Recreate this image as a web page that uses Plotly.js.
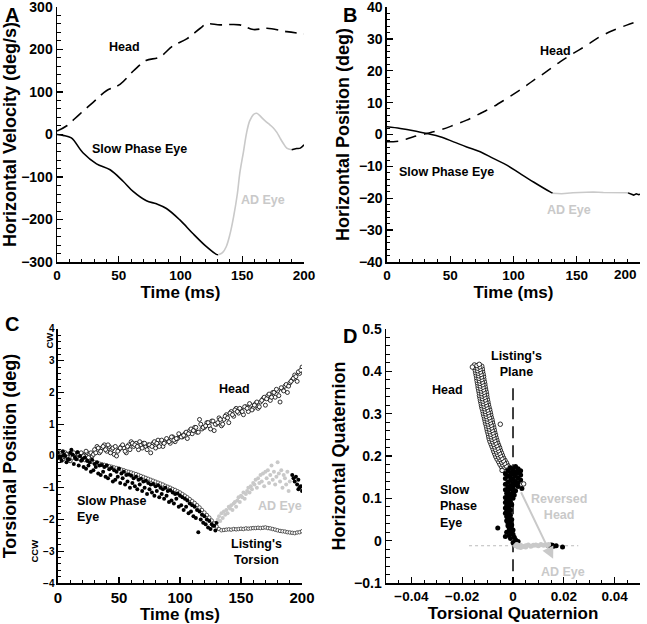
<!DOCTYPE html>
<html><head><meta charset="utf-8">
<script src="https://cdn.plot.ly/plotly-3.0.1.min.js"></script>
<style>html,body{margin:0;padding:0;background:#fff}#chart{width:647px;height:624px}</style>
</head><body><div id="chart"></div>
<script>
// ---------- Panel A: horizontal velocity ----------
const eyeVelT = [0,5,11.6,21,32,43,53.5,61.6,72.4,80.5,88.6,99.5,110,121,129,130.5];
const eyeVelV = [0,-2,-8,-43,-69,-83,-110,-134,-156,-163,-174,-201,-233,-264,-282,-283];
const adVelT = [130.5,134,137,140,143,146,148,151,153.5,156,159,161.6,164,167,171,175,178,180.5,183,186,190];
const adVelV = [-283,-278,-264,-235,-193,-140,-91,-40,4,32,47,50,45,36,26,16,5,-8,-20,-32,-36];
const eyeVel2T = [190,194,197,200];
const eyeVel2V = [-36,-33,-32,-24];
const headVelT = [0,7.6,18,29,40,51,62,72,83,94,105,116,121,132,148,159,170,186,200];
const headVelV = [8,20,47,75,103,118,150,174,182,209,225,250,260,258,258,247,250,242,237];

// ---------- Panel B: horizontal position ----------
const eyePosT = [0,10.5,21,31.6,42,52.6,63,73.7,84,94.7,105,115.8,129,131];
const eyePosV = [2.4,1.9,1.2,0.3,-0.7,-2.3,-3.9,-5.4,-7.5,-9.6,-12.2,-14.9,-18,-18.4];
const adPosT = [131,138,147,155,163,171,179,185,190.5];
const adPosV = [-18.4,-18.6,-18.3,-18.1,-18,-18.2,-18.3,-18.2,-18.3];
const eyePos2T = [190.5,193,195,197,199,200];
const eyePos2V = [-18.3,-18.8,-19.0,-18.6,-18.9,-18.7];
const headPosT = [0,10.5,21,31.6,42,52.6,63,73.7,84,94.7,105,115.8,126,136.8,147,158,168,179,189.5,200];
const headPosV = [-2.3,-2,-0.7,0.3,1.4,2.9,4.5,6.6,8.7,11.3,13.9,17,19.7,22.8,25.4,28,30.6,32.7,34.3,35.7];
const timeTicks = [0,50,100,150,200];
const timeTickTextB = ['0','50','100','150',''];

// ---------- Panel C: torsional position ----------
const headTorT = [0,2,4,6,8,10,12,14,16,18,20,22,24,26,28,30,32,34,36,38,40,42,44,46,48,50,52,54,56,58,60,62,64,66,68,70,72,74,76,78,80,82,84,86,88,90,92,94,96,98,100,102,104,106,108,110,112,114,116,118,120,122,124,126,128,130,132,134,136,138,140,142,144,146,148,150,152,154,156,158,160,162,164,166,168,170,172,174,176,178,180,182,184,186,188,190,192,194,196,198,200,
  1,3,5,7,9,11,13,15,17,19,21,23,25,27,29,31,33,35,37,39,41,43,45,47,49,51,53,55,57,59,61,63,65,67,69,71,73,75,77,79,81,83,85,87,89,91,93,95,97,99,101,103,105,107,109,111,113,115,117,119,121,123,125,127,129,131,133,135,137,139,141,143,145,147,149,151,153,155,157,159,161,163,165,167,169,171,173,175,177,179,181,183,185,187,189,191,193,195,197,199];
const headTorV = [-0.05,0.05,-0.1,0.1,0.0,-0.15, 0.05,-0.05,0.1,0,0.05,-0.1,0.1,0.05,0.0, 0.2,0.3,0.1,0.25,0.35,0.15,0.3,0.2,0.05,0.0, 0.2,0.3,0.25,0.1,0.35, 0.45,0.3,0.4,0.2,0.35,0.4, 0.3,0.35,0.1,0.4,0.25,0.5,0.35,0.3,0.45, 0.5,0.4,0.6,0.45,0.55,0.65, 0.6,0.7,0.55,0.8,0.7,0.9,0.75,1.15,0.85, 0.9,1.05,0.95,1.1,0.8,1.0, 1.2,0.95,1.15,1.3,1.05,1.4,1.25,1.5,1.35, 1.45,1.3,1.55,1.4,1.6,1.5, 1.65,1.5,1.7,1.8,1.6,1.9,1.75,2.0,1.85, 2.05,1.7,2.1,2.2,2.0,2.3, 2.4,2.55,2.35,2.6,2.8,
  0.1,-0.05,0.0,0.05,-0.1, 0.0,0.1,-0.05,0.05,0.1,0.0,0.15,-0.05,0.1,0.05, 0.1,0.25,0.15,0.3,0.2,0.35,0.1,0.25,0.3,0.15, 0.25,0.35,0.15,0.3,0.2,0.4,0.35,0.3,0.45,0.25, 0.4,0.2,0.35,0.3,0.45,0.4,0.3,0.5,0.4,0.55, 0.45,0.6,0.5,0.55,0.7,0.6,0.65,0.75,0.7,0.85, 0.8,0.9,0.75,1.0,0.9,0.95,1.05,0.85,1.1,1.0, 1.05,1.15,1.0,1.25,1.2,1.35,1.3,1.45,1.4,1.5, 1.4,1.55,1.5,1.65,1.45,1.6,1.7,1.55,1.75,1.85, 1.8,1.95,1.85,2.0,2.1,1.9,2.15,2.05,2.25,2.2, 2.35,2.45,2.5,2.65,2.7];
const listT = [0,2,4,6,8,10,12,14,16,18,20,22,24,26,28,30,32,34,36,38,40,42,44,46,48,50,52,54,56,58,60,62,64,66,68,70,72,74,76,78,80,82,84,86,88,90,92,94,96,98,100,102,104,106,108,110,112,114,116,118,120,122,124,126,128,130,132,134,136,138,140,142,144,146,148,150,152,154,156,158,160,162,164,166,168,170,172,174,176,178,180,182,184,186,188,190,192,194,196,198,200];
const listV = [0.02,0.0,-0.01,-0.02,-0.03,-0.05, -0.06,-0.07,-0.09,-0.1,-0.12,-0.13,-0.15,-0.17,-0.19, -0.2,-0.22,-0.24,-0.26,-0.28,-0.3,-0.32,-0.34,-0.36,-0.38, -0.4,-0.43,-0.45,-0.48,-0.5, -0.52,-0.55,-0.57,-0.6,-0.63,-0.66, -0.69,-0.72,-0.75,-0.78,-0.81,-0.84,-0.87,-0.9,-0.94, -0.97,-1.0,-1.04,-1.07,-1.11,-1.15, -1.2,-1.25,-1.3,-1.36,-1.42,-1.48,-1.55,-1.62,-1.7, -1.78,-1.86,-1.94,-2.03,-2.12,-2.22, -2.3,-2.34,-2.33,-2.32,-2.31,-2.32,-2.3,-2.31,-2.3, -2.29,-2.3,-2.28,-2.29,-2.28,-2.27, -2.27,-2.26,-2.27,-2.26,-2.25,-2.27,-2.28,-2.3,-2.32, -2.34,-2.36,-2.37,-2.38,-2.4,-2.41, -2.42,-2.43,-2.41,-2.4,-2.37];
const eyeTorT = [0,2,4,6,8,10,12,14,16,18,20,22,24,26,28,30,32,34,36,38,40,42,44,46,48,50,52,54,56,58,60,62,64,66,68,70,72,74,76,78,80,82,84,86,88,90,92,94,96,98,100,102,104,106,108,110,112,114,116,118,120,122,124,126,128,130,
  1,3,5,7,9,11,13,15,17,19,21,23,25,27,29,31,33,35,37,39,41,43,45,47,49,51,53,55,57,59,61,63,65,67,69,71,73,75,77,79,81,83,85,87,89,91,93,95,97,99,101,103,105,107,109,111,113,115,117,119,121,123,125,127,129,
  192,193,194,195,196,197,198,199,200,197];
const eyeTorV = [0.1,-0.05,0.15,0.0,-0.1,0.1,0.05,-0.05,0.12,0.0, -0.1,-0.05,-0.15,-0.2,-0.12,-0.25,-0.2,-0.3,-0.28,-0.35, -0.3,-0.42,-0.38,-0.45,-0.5,-0.4,-0.55,-0.5,-0.6,-0.58, -0.62,-0.7,-0.65,-0.75,-0.72,-0.8,-0.78,-0.85,-0.9,-0.88, -0.95,-0.92,-1.0,-1.05,-1.0,-1.1,-1.08,-1.15,-1.2,-1.18, -1.25,-1.3,-1.35,-1.4,-1.5,-1.55,-1.6,-1.7,-1.75,-1.85, -1.9,-2.0,-2.05,-2.15,-2.2,-2.1,
  -0.05,-0.15,0.05,-0.2,-0.1,0.2,-0.25,-0.1,-0.3,-0.15, -0.35,-0.4,-0.3,-0.5,-0.45,-0.35,-0.55,-0.6,-0.5,-0.65, -0.7,-0.6,-0.8,-0.75,-0.65,-0.85,-0.7,-0.9,-0.8,-1.0, -0.85,-0.95,-1.05,-0.9,-1.1,-1.0,-1.2,-1.05,-1.15,-1.25, -1.1,-1.3,-1.2,-1.35,-1.25,-1.45,-1.4,-1.5,-1.35,-1.6, -1.55,-1.7,-1.6,-1.8,-1.75,-1.9,-1.95,-2.4,-2.0,-2.1, -2.15,-2.25,-2.3,-2.2,-2.35,
  -0.6,-0.7,-0.8,-0.65,-0.9,-0.75,-1.0,-0.95,-1.1,-1.05];
const adTorT = [131,132,133,134,135,136,137,138,139,140,141,142,143,144,145,146,147,148,149,150,151,152,153,154,155,156,157,158,159,160,161,162,163,164,165,166,167,168,169,170,171,172,173,174,175,176,177,178,179,180,181,182,183,184,185,186,187,188,189,190];
const adTorV = [-2.0,-1.9,-2.05,-1.8,-1.95,-1.75,-1.85,-1.7,-1.8,-1.6, -1.65,-1.55,-1.7,-1.5,-1.45,-1.6,-1.4,-1.3,-1.45,-1.25, -1.3,-1.15,-1.35,-1.2,-1.1,-1.0,-1.15,-0.95,-1.05,-0.85, -0.9,-0.75,-1.0,-0.7,-0.85,-0.6,-0.8,-0.55,-0.95,-0.5, -0.7,-0.45,-0.85,-0.6,-0.3,-0.75,-0.5,-0.9,-0.65,-0.2, -0.55,-0.8,-0.45,-1.0,-0.6,-0.7,-0.9,-0.5,-1.1,-0.8];

// ---------- Panel D: quaternions ----------
const headQx = [0.0004,-0.0031,-0.0010,-0.0041,-0.0015,-0.0046,-0.0021,-0.0052,-0.0026,-0.0057,-0.0032,-0.0063,-0.0038,-0.0068,-0.0042,-0.0072,-0.0046,-0.0076,-0.0050,-0.0079,-0.0053,-0.0083,-0.0057,-0.0087,-0.0061,-0.0091,-0.0064,-0.0094,-0.0067,-0.0096,-0.0069,-0.0098,-0.0072,-0.0101,-0.0074,-0.0103,-0.0076,-0.0105,-0.0079,-0.0108,-0.0081,-0.0110,-0.0083,-0.0112,-0.0086,-0.0115,-0.0088,-0.0117,-0.0090,-0.0119,-0.0092,-0.0122,-0.0095,-0.0124,-0.0097,-0.0126,-0.0099,-0.0128,-0.0101,-0.0130,-0.0103,-0.0132,-0.0104,-0.0133,-0.0106,-0.0135,-0.0108,-0.0137,-0.0110,-0.0138,-0.0111,-0.0140,-0.0113,-0.0142,-0.0115,-0.0143,-0.0116,-0.0145,-0.0118,-0.0147,-0.0120,-0.0149,-0.0121,-0.0150,-0.0123,-0.0152];
const headQy = [0.160,0.163,0.166,0.169,0.172,0.175,0.178,0.181,0.184,0.187,0.190,0.193,0.196,0.199,0.202,0.205,0.208,0.211,0.214,0.217,0.220,0.223,0.226,0.229,0.232,0.235,0.238,0.241,0.244,0.247,0.250,0.253,0.256,0.259,0.262,0.265,0.268,0.271,0.274,0.277,0.280,0.283,0.286,0.289,0.292,0.295,0.298,0.301,0.304,0.307,0.310,0.313,0.316,0.319,0.322,0.325,0.328,0.331,0.334,0.337,0.340,0.343,0.346,0.349,0.352,0.355,0.358,0.361,0.364,0.367,0.370,0.373,0.376,0.379,0.382,0.385,0.388,0.391,0.394,0.397,0.400,0.403,0.406,0.409,0.412,0.415];
const headQx2 = [-0.0015,-0.0012,-0.0029,-0.0022,-0.0034,-0.0027,-0.0040,-0.0033,-0.0045,-0.0038,-0.0051,-0.0044,-0.0057,-0.0049,-0.0061,-0.0053,-0.0065,-0.0057,-0.0069,-0.0060,-0.0072,-0.0064,-0.0076,-0.0068,-0.0080,-0.0072,-0.0083,-0.0075,-0.0086,-0.0077,-0.0088,-0.0079,-0.0091,-0.0082,-0.0093,-0.0084,-0.0095,-0.0086,-0.0098,-0.0089,-0.0100,-0.0091,-0.0102,-0.0093,-0.0105,-0.0096,-0.0107,-0.0098,-0.0109,-0.0100,-0.0111,-0.0103,-0.0114,-0.0105,-0.0116,-0.0107,-0.0118,-0.0109,-0.0120,-0.0111,-0.0122,-0.0113,-0.0123,-0.0114,-0.0125,-0.0116,-0.0127,-0.0118,-0.0129,-0.0119,-0.0130,-0.0121,-0.0132,-0.0123,-0.0134,-0.0124,-0.0135,-0.0126,-0.0137,-0.0128,-0.0139,-0.0130,-0.0140,-0.0131,-0.0142,-0.0133];
const headQy2 = [0.1615,0.1645,0.1675,0.1705,0.1735,0.1765,0.1795,0.1825,0.1855,0.1885,0.1915,0.1945,0.1975,0.2005,0.2035,0.2065,0.2095,0.2125,0.2155,0.2185,0.2215,0.2245,0.2275,0.2305,0.2335,0.2365,0.2395,0.2425,0.2455,0.2485,0.2515,0.2545,0.2575,0.2605,0.2635,0.2665,0.2695,0.2725,0.2755,0.2785,0.2815,0.2845,0.2875,0.2905,0.2935,0.2965,0.2995,0.3025,0.3055,0.3085,0.3115,0.3145,0.3175,0.3205,0.3235,0.3265,0.3295,0.3325,0.3355,0.3385,0.3415,0.3445,0.3475,0.3505,0.3535,0.3565,0.3595,0.3625,0.3655,0.3685,0.3715,0.3745,0.3775,0.3805,0.3835,0.3865,0.3895,0.3925,0.3955,0.3985,0.4015,0.4045,0.4075,0.4105,0.4135,0.4165];
const headQxOut = [-0.016,-0.005,-0.0043,0.0042];
const headQyOut = [0.410,0.275,0.166,0.134];
const eyeQx = [0.001,-0.001,0.002,0.0,-0.002,0.003,0.001,-0.001,0.002,-0.003,0.0,0.003,-0.002,0.001,-0.001,0.002,-0.003,0.0,0.003,-0.001,0.001,-0.002,0.002,0.0,-0.003,0.001,-0.001,0.002,-0.002,0.0,0.0035,-0.001,-0.003,0.001,-0.002,0.0,-0.0025,-0.001,0.0005,-0.002,-0.001,-0.003,0.0,
  -0.0015,-0.0025,-0.001,-0.003,-0.002,-0.0005,-0.0025,-0.0015,-0.003,-0.002,-0.001,-0.0025,-0.0015,-0.003,-0.002,-0.001,-0.0025,-0.0015,-0.002,-0.0005,-0.0025,-0.001,-0.002,-0.0015,-0.0005,-0.002,-0.001,-0.006,-0.0015,0.0,-0.001,-0.0025,-0.0005,0.0,-0.0015,-0.003,0.0005,-0.001,0.001,0.002,0.0,0.001,
  0.014,0.015,0.016,0.0155,0.017,0.0195,0.015];
const eyeQy = [0.175,0.172,0.170,0.168,0.166,0.165,0.163,0.161,0.160,0.158,0.157,0.155,0.153,0.152,0.150,0.148,0.147,0.145,0.143,0.142,0.140,0.138,0.137,0.135,0.133,0.132,0.130,0.128,0.127,0.125,0.123,0.122,0.120,0.118,0.116,0.114,0.112,0.110,0.108,0.106,0.104,0.102,0.100,
  0.098,0.095,0.092,0.090,0.087,0.085,0.082,0.080,0.077,0.075,0.072,0.070,0.067,0.065,0.062,0.060,0.057,0.055,0.052,0.050,0.047,0.045,0.042,0.040,0.037,0.035,0.032,0.030,0.028,0.025,0.022,0.020,0.018,0.015,0.012,0.010,0.008,0.005,0.002,-0.002,-0.005,-0.010,
  -0.012,-0.010,-0.013,-0.011,-0.012,-0.015,-0.014];
const adQx = [0.001,0.002,0.003,0.004,0.005,0.006,0.007,0.008,0.009,0.010,0.011,0.012,0.013,0.014,0.003,0.005,0.0015];
const adQy = [-0.012,-0.015,-0.011,-0.014,-0.012,-0.010,-0.013,-0.011,-0.010,-0.012,-0.009,-0.011,-0.010,-0.009,-0.016,-0.015,-0.009];
const listingPlaneX = [0, 0];
const listingPlaneY = [0.36, -0.1];
const adLevelX = [-0.0173, 0.0257];
const adLevelY = [-0.012, -0.012];
const reversedHeadFrom = [0.0029, 0.118];
const reversedHeadTo = [0.0158, -0.043];

// ---------- styling ----------
const F = 'Liberation Sans, Arial, Helvetica, sans-serif';
const GRAY = '#c9c9c9';
const DASH = '12px,7px';
const openHeadD = {size:4.5, color:'#fff', line:{color:'#000', width:0.8}};

const traces = [
  {x: headVelT, y: headVelV, xaxis:'x', yaxis:'y', mode:'lines', line:{color:'#000', width:1.6, dash:DASH, shape:'spline'}, name:'Head'},
  {x: eyeVelT, y: eyeVelV, xaxis:'x', yaxis:'y', mode:'lines', line:{color:'#000', width:1.6, shape:'spline'}, name:'Slow Phase Eye'},
  {x: adVelT, y: adVelV, xaxis:'x', yaxis:'y', mode:'lines', line:{color:GRAY, width:1.6, shape:'spline'}, name:'AD Eye'},
  {x: eyeVel2T, y: eyeVel2V, xaxis:'x', yaxis:'y', mode:'lines', line:{color:'#000', width:1.6, shape:'spline'}, name:'Eye'},

  {x: headPosT, y: headPosV, xaxis:'x2', yaxis:'y2', mode:'lines', line:{color:'#000', width:1.5, dash:'11px,8px', shape:'spline'}, name:'Head'},
  {x: eyePosT, y: eyePosV, xaxis:'x2', yaxis:'y2', mode:'lines', line:{color:'#000', width:1.5, shape:'spline'}, name:'Slow Phase Eye'},
  {x: adPosT, y: adPosV, xaxis:'x2', yaxis:'y2', mode:'lines', line:{color:GRAY, width:1.5}, name:'AD Eye'},
  {x: eyePos2T, y: eyePos2V, xaxis:'x2', yaxis:'y2', mode:'lines', line:{color:'#000', width:1.5}, name:'Eye'},

  {x: headTorT, y: headTorV, xaxis:'x3', yaxis:'y3', mode:'markers', marker:{size:4, color:'#fff', line:{color:'#000', width:0.8}}, name:'Head'},
  {x: listT, y: listV, xaxis:'x3', yaxis:'y3', mode:'markers', marker:{size:3.5, color:'#fff', line:{color:'#333', width:0.8}}, name:"Listing's Torsion"},
  {x: eyeTorT, y: eyeTorV, xaxis:'x3', yaxis:'y3', mode:'markers', marker:{size:4, color:'#000'}, name:'Slow Phase Eye'},
  {x: adTorT, y: adTorV, xaxis:'x3', yaxis:'y3', mode:'markers', marker:{size:4, color:GRAY}, name:'AD Eye'},

  {x: listingPlaneX, y: listingPlaneY, xaxis:'x4', yaxis:'y4', mode:'lines', line:{color:'#000', width:1.5, dash:'12px,7px'}, name:"Listing's Plane"},
  {x: adLevelX, y: adLevelY, xaxis:'x4', yaxis:'y4', mode:'lines', line:{color:'#bbb', width:1, dash:'3px,3px'}, name:'level'},
  {x: headQx, y: headQy, xaxis:'x4', yaxis:'y4', mode:'markers', marker:openHeadD, name:'Head'},
  {x: headQx2, y: headQy2, xaxis:'x4', yaxis:'y4', mode:'markers', marker:openHeadD, name:'Head'},
  {x: headQxOut, y: headQyOut, xaxis:'x4', yaxis:'y4', mode:'markers', marker:openHeadD, name:'Head'},
  {x: eyeQx, y: eyeQy, xaxis:'x4', yaxis:'y4', mode:'markers', marker:{size:5, color:'#000'}, name:'Slow Phase Eye'},
  {x: adQx, y: adQy, xaxis:'x4', yaxis:'y4', mode:'markers', marker:{size:5, color:GRAY}, name:'AD Eye'}
];

function ax(o) {
  const base = {
    showline:true, linecolor:'#000', linewidth:1.5, ticks:'inside', ticklen:6, tickwidth:1.3, tickcolor:'#000',
    showgrid:false, zeroline:false, fixedrange:true, ticklabeloverflow:'allow',
    tickfont:{family:F, size:14, weight:'bold', color:'#000'},
    title:{font:{family:F, size:17, weight:'bold', color:'#000'}}
  };
  const r = Object.assign({}, base, o);
  r.tickfont = Object.assign({}, base.tickfont, o.tickfont || {});
  r.title = Object.assign({}, base.title, o.title || {});
  r.title.font = Object.assign({}, base.title.font, (o.title && o.title.font) || {});
  r.minor = Object.assign({ticks:'inside', ticklen:3.5, tickwidth:1, tickcolor:'#000', showgrid:false}, o.minor || {});
  return r;
}

const yTitleFont = {size:18};
const layout = {
  width:647, height:624, margin:{l:0, r:0, t:0, b:0}, showlegend:false,
  paper_bgcolor:'#fff', plot_bgcolor:'#fff',
  xaxis: ax({domain:[0.0881,0.4699], anchor:'y', range:[0,200], dtick:50, minor:{dtick:10}, tickfont:{size:13.5}, title:{text:'Time (ms)', standoff:4}}),
  yaxis: ax({domain:[0.5801,0.9888], anchor:'x', range:[-300,300], dtick:100, minor:{dtick:20}, title:{text:'Horizontal Velocity (deg/s)', standoff:7, font:yTitleFont}}),
  xaxis2: ax({domain:[0.5981,0.9892], anchor:'y2', range:[0,200], tickmode:'array', tickvals:timeTicks, ticktext:timeTickTextB, minor:{dtick:10}, tickfont:{size:13.5}, title:{text:'Time (ms)', standoff:4}}),
  yaxis2: ax({domain:[0.5801,0.9888], anchor:'x2', range:[-40,40], dtick:10, minor:{dtick:2}, title:{text:'Horizontal Position (deg)', standoff:4, font:yTitleFont}}),
  xaxis3: ax({domain:[0.0896,0.4668], anchor:'y3', range:[0,200], dtick:50, minor:{dtick:10}, tickfont:{size:15}, title:{text:'Time (ms)', standoff:4}}),
  yaxis3: ax({domain:[0.0657,0.4728], anchor:'x3', range:[-4,4], dtick:1, minor:{dtick:0.2}, tickfont:{size:10}, title:{text:'Torsional Position (deg)', standoff:23, font:yTitleFont}}),
  xaxis4: ax({domain:[0.5966,0.9892], anchor:'y4', range:[-0.05,0.05], dtick:0.02, minor:{dtick:0.005}, tickfont:{size:13.5}, title:{text:'Torsional Quaternion', standoff:4}}),
  yaxis4: ax({domain:[0.0657,0.4728], anchor:'x4', range:[-0.1,0.5], dtick:0.1, minor:{dtick:0.02}, title:{text:'Horizontal Quaternion', standoff:4, font:yTitleFont}}),
  annotations: []
};

function lab(xref, yref, x, y, text, opts) {
  return Object.assign({xref, yref, x, y, text, showarrow:false,
    font:{family:F, size:12.5, weight:'bold', color:'#000'}}, opts || {});
}
const g = {family:F, size:12.5, weight:'bold', color:GRAY};
const letterFont = {family:F, size:20, weight:'bold', color:'#000'};
layout.annotations.push(
  // panel letters
  {xref:'paper', yref:'paper', x:0.004, y:0.997, xanchor:'left', yanchor:'top', text:'A', showarrow:false, font:letterFont},
  {xref:'paper', yref:'paper', x:0.527, y:0.997, xanchor:'left', yanchor:'top', text:'B', showarrow:false, font:letterFont},
  {xref:'paper', yref:'paper', x:0.004, y:0.502, xanchor:'left', yanchor:'top', text:'C', showarrow:false, font:letterFont},
  {xref:'paper', yref:'paper', x:0.527, y:0.482, xanchor:'left', yanchor:'top', text:'D', showarrow:false, font:letterFont},
  // last time tick label of panel B, kept inside the page as in the reference
  {xref:'paper', yref:'paper', x:0.9876, y:0.576, xanchor:'right', yanchor:'top', text:'200', showarrow:false, font:{family:F, size:13.5, weight:'bold', color:'#000'}},
  // A
  lab('x','y',55,207,'Head'),
  lab('x','y',66.5,-35,'Slow Phase Eye'),
  lab('x','y',167,-154,'AD Eye',{font:g}),
  // B
  lab('x2','y2',133,26.3,'Head'),
  lab('x2','y2',47,-11.7,'Slow Phase Eye'),
  lab('x2','y2',144,-23.7,'AD Eye',{font:g}),
  // C
  lab('x3','y3',145,2.1,'Head'),
  lab('x3','y3',14,-1.68,'Slow Phase<br>Eye',{xanchor:'left', align:'left'}),
  lab('x3','y3',182,-1.56,'AD Eye',{font:g}),
  lab('x3','y3',163,-3.03,"Listing's<br>Torsion"),
  {xref:'paper', yref:'paper', x:0.0634, y:0.4535, text:'CW', textangle:-90, showarrow:false, font:{family:F, size:9.5, weight:'bold', color:'#000'}},
  {xref:'paper', yref:'paper', x:0.041, y:0.0946, text:'CCW', textangle:-90, showarrow:false, font:{family:F, size:9.5, weight:'bold', color:'#000'}},
  // D
  lab('x4','y4',0.0013,0.417,"Listing's<br>Plane"),
  lab('x4','y4',-0.0258,0.355,'Head'),
  lab('x4','y4',-0.0297,0.08,'Slow<br>Phase<br>Eye',{xanchor:'left', align:'left'}),
  lab('x4','y4',0.0182,0.08,'Reversed<br>Head',{font:g}),
  lab('x4','y4',0.0198,-0.075,'AD Eye',{font:g}),
  {xref:'x4', yref:'y4', axref:'x4', ayref:'y4', x:reversedHeadTo[0], y:reversedHeadTo[1], ax:reversedHeadFrom[0], ay:reversedHeadFrom[1],
   text:'', showarrow:true, arrowhead:2, arrowsize:1.2, arrowwidth:2, arrowcolor:GRAY}
);

Plotly.newPlot('chart', traces, layout, {displayModeBar:false, staticPlot:true});
</script></body></html>
